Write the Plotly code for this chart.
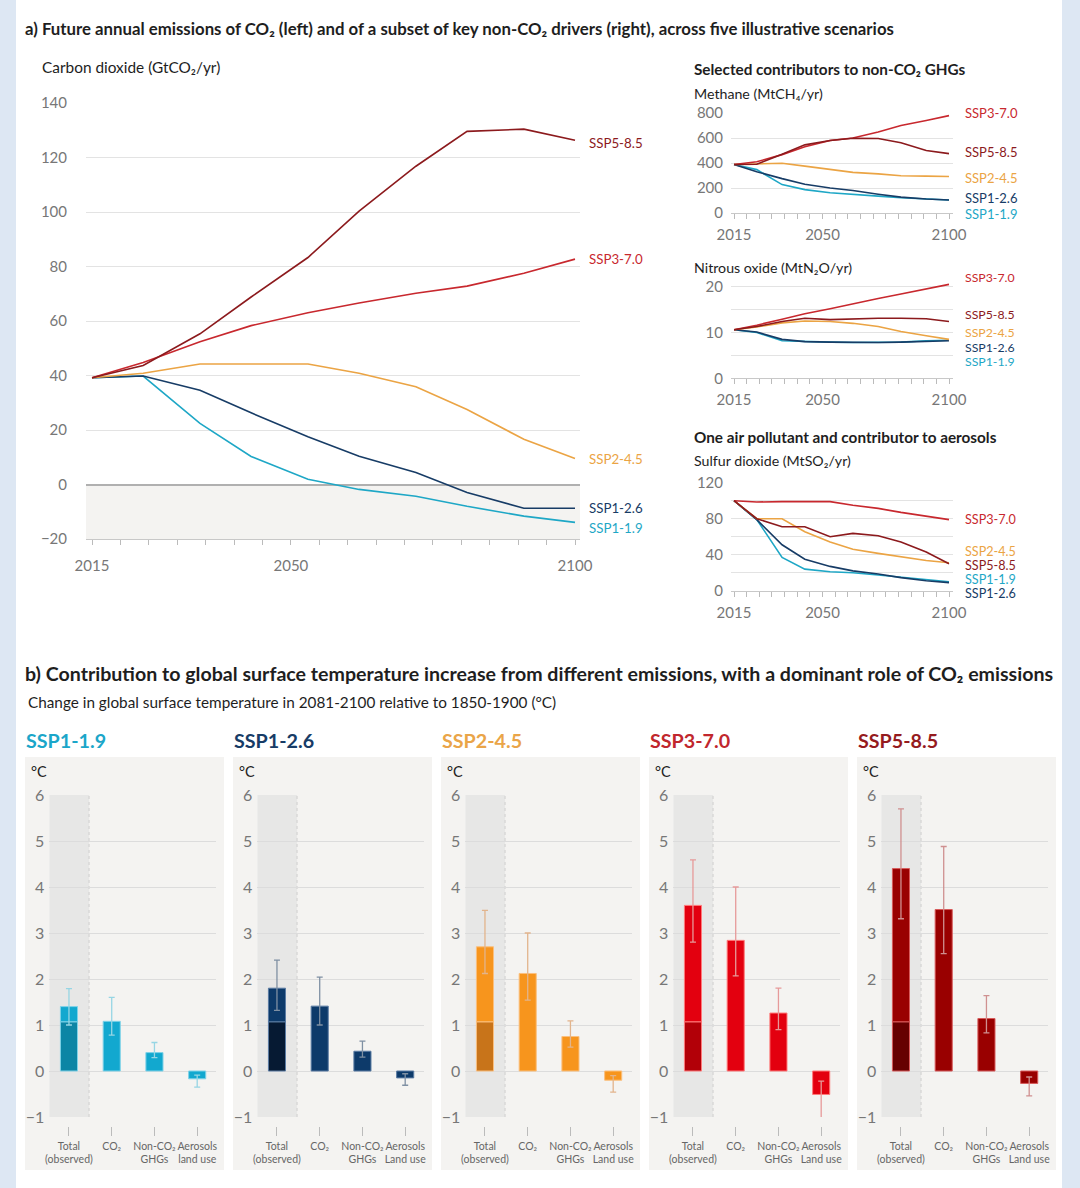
import plotly.graph_objects as go

W, H = 1080, 1188
FONT = "Lato, 'Open Sans', sans-serif"

# ---------------- data: part a ----------------
years = [2015, 2024, 2034, 2043, 2053, 2062, 2072, 2081, 2091, 2100]
year_ticks = [2015, 2050, 2100]
scenarios = ["SSP1-1.9", "SSP1-2.6", "SSP2-4.5", "SSP3-7.0", "SSP5-8.5"]

co2_ssp119 = [39.2, 39.8, 22.4, 10.3, 1.9, -1.8, -4.3, -8.0, -11.6, -13.9]
co2_ssp126 = [39.2, 39.8, 34.6, 26.3, 17.5, 10.4, 4.4, -2.9, -8.7, -8.7]
co2_ssp245 = [39.2, 40.8, 44.2, 44.2, 44.2, 40.8, 35.9, 27.5, 16.6, 9.5]
co2_ssp370 = [39.2, 44.8, 52.4, 58.3, 63.0, 66.6, 70.2, 72.8, 77.5, 82.7]
co2_ssp585 = [39.2, 43.7, 55.3, 68.8, 83.3, 100.3, 116.8, 129.6, 130.4, 126.3]

ch4_ssp119 = [388, 347, 227, 187, 162, 152, 135, 122, 112, 104]
ch4_ssp126 = [388, 330, 275, 230, 200, 180, 150, 127, 112, 104]
ch4_ssp245 = [388, 395, 398, 375, 350, 325, 313, 298, 295, 292]
ch4_ssp370 = [388, 410, 467, 530, 580, 600, 648, 700, 740, 779]
ch4_ssp585 = [388, 390, 470, 545, 580, 598, 596, 562, 500, 475]

n2o_ssp119 = [10.6, 10.0, 8.2, 8.0, 7.9, 7.8, 7.8, 7.9, 8.2, 8.3]
n2o_ssp126 = [10.6, 10.1, 8.5, 8.0, 7.9, 7.8, 7.8, 7.9, 8.1, 8.2]
n2o_ssp245 = [10.6, 11.2, 12.1, 12.5, 12.4, 12.0, 11.3, 10.2, 9.3, 8.5]
n2o_ssp370 = [10.6, 11.6, 12.9, 14.1, 15.2, 16.3, 17.4, 18.4, 19.5, 20.5]
n2o_ssp585 = [10.6, 11.3, 12.4, 13.1, 12.8, 13.0, 13.1, 13.1, 13.0, 12.4]

so2_ssp119 = [100, 79, 37, 24, 21, 20, 17.5, 15, 12, 10]
so2_ssp126 = [100, 79, 51, 35, 27, 22, 18.5, 14.5, 11, 9]
so2_ssp245 = [100, 80, 80, 65.5, 54, 46, 41.5, 38, 33.5, 31]
so2_ssp370 = [100, 98.5, 99, 99, 99, 95, 91.5, 87, 83, 79]
so2_ssp585 = [100, 80, 71, 71, 60, 63.7, 61, 54, 43, 30]

# ---------------- data: part b ----------------
contrib_labels_first = ["Total<br>(observed)", "CO₂", "Non-CO₂<br>GHGs", "Aerosols<br>land use"]
contrib_labels = ["Total<br>(observed)", "CO₂", "Non-CO₂<br>GHGs", "Aerosols<br>Land use"]
observed_warming = 1.07
total_warming = [1.4, 1.8, 2.7, 3.6, 4.4]
total_lo = [1.0, 1.32, 2.12, 2.8, 3.31]
total_hi = [1.79, 2.41, 3.49, 4.59, 5.7]
co2_warming = [1.08, 1.41, 2.12, 2.84, 3.51]
co2_lo = [0.78, 1.0, 1.54, 2.07, 2.55]
co2_hi = [1.6, 2.04, 3.0, 4.0, 4.88]
nonco2_warming = [0.4, 0.43, 0.75, 1.26, 1.14]
nonco2_lo = [0.29, 0.3, 0.52, 0.9, 0.83]
nonco2_hi = [0.62, 0.65, 1.09, 1.8, 1.64]
aerosol_warming = [-0.17, -0.15, -0.2, -0.51, -0.27]
aerosol_lo = [-0.35, -0.31, -0.46, -1.04, -0.54]
aerosol_hi = [-0.09, -0.06, -0.1, -0.22, -0.13]

# ---------------- styles ----------------
line_col = {"SSP1-1.9": "#1ea7c6", "SSP1-2.6": "#173c66", "SSP2-4.5": "#eba444",
            "SSP3-7.0": "#c8282e", "SSP5-8.5": "#8c1a1d"}
title_col = ["#1ba6c9", "#173c66", "#eaa548", "#c1272d", "#951b1e"]
bar_col = ["#12a8cf", "#0d3a6a", "#f7951d", "#e3000f", "#990000"]
obs_col = ["#0c85a5", "#061a33", "#c8741a", "#b20008", "#660000"]
err_col = ["#96d5e4", "#7f90a3", "#e2b48c", "#e69a9a", "#cf9090"]
edge_col = ["#7fd2e8", "#5a7ba3", "#fbbf7d", "#ff7a7a", "#d85a5a"]
TICK_COL = "#777777"
GRID = "#e3e3e3"


def xpx(p):
    return p / W


def ypx(p):
    return 1 - p / H


fig = go.Figure()

# ---------------- part a traces ----------------
co2 = dict(zip(scenarios, [co2_ssp119, co2_ssp126, co2_ssp245, co2_ssp370, co2_ssp585]))
ch4 = dict(zip(scenarios, [ch4_ssp119, ch4_ssp126, ch4_ssp245, ch4_ssp370, ch4_ssp585]))
n2o = dict(zip(scenarios, [n2o_ssp119, n2o_ssp126, n2o_ssp245, n2o_ssp370, n2o_ssp585]))
so2 = dict(zip(scenarios, [so2_ssp119, so2_ssp126, so2_ssp245, so2_ssp370, so2_ssp585]))

panels_a = [("x", "y", co2), ("x2", "y2", ch4), ("x3", "y3", n2o), ("x4", "y4", so2)]
for xa, ya, data in panels_a:
    for s in scenarios:
        fig.add_trace(go.Scatter(x=years, y=data[s], mode="lines", xaxis=xa, yaxis=ya,
                                 line=dict(color=line_col[s], width=1.6),
                                 showlegend=False, hoverinfo="skip"))

annotations = []

# label offsets (pixels) for end-of-line scenario labels
label_shift = {
    "x": {"SSP1-1.9": -6, "SSP1-2.6": 0, "SSP2-4.5": 0, "SSP3-7.0": 0, "SSP5-8.5": -3},
    "x2": {"SSP1-1.9": -14, "SSP1-2.6": 2, "SSP2-4.5": -1, "SSP3-7.0": 3, "SSP5-8.5": 2},
    "x3": {"SSP1-1.9": -21, "SSP1-2.6": -7, "SSP2-4.5": 7, "SSP3-7.0": 7, "SSP5-8.5": 7},
    "x4": {"SSP1-1.9": 2, "SSP1-2.6": -11, "SSP2-4.5": 11, "SSP3-7.0": 0, "SSP5-8.5": -2},
}
label_size = {"x": 13.3, "x2": 13, "x3": 12.3, "x4": 12.6}
for xa, ya, data in panels_a:
    for s in scenarios:
        annotations.append(dict(
            x=years[-1], y=data[s][-1], xref=xa, yref=ya, text=s, showarrow=False,
            xanchor="left", yanchor="middle", xshift=12 if xa == "x" else 14,
            yshift=label_shift[xa][s],
            font=dict(family=FONT, size=label_size[xa], color=line_col[s])))

# ---------------- part b traces ----------------
for i in range(5):
    xa, ya = f"x{5 + i}", f"y{5 + i}"
    fig.add_trace(go.Bar(x=[0], y=[observed_warming], xaxis=xa, yaxis=ya, width=0.4,
                         marker=dict(color=obs_col[i], line=dict(color=edge_col[i], width=1)),
                         showlegend=False, hoverinfo="skip"))
    fig.add_trace(go.Bar(x=[0], y=[total_warming[i] - observed_warming], base=[observed_warming],
                         xaxis=xa, yaxis=ya, width=0.4,
                         marker=dict(color=bar_col[i], line=dict(color=edge_col[i], width=1)),
                         showlegend=False, hoverinfo="skip"))
    vals = [co2_warming[i], nonco2_warming[i], aerosol_warming[i]]
    fig.add_trace(go.Bar(x=[1, 2, 3], y=vals, xaxis=xa, yaxis=ya, width=0.4,
                         marker=dict(color=bar_col[i], line=dict(color=edge_col[i], width=1)),
                         showlegend=False, hoverinfo="skip"))
    centers = [total_warming[i], co2_warming[i], nonco2_warming[i], aerosol_warming[i]]
    los = [total_lo[i], co2_lo[i], nonco2_lo[i], aerosol_lo[i]]
    his = [total_hi[i], co2_hi[i], nonco2_hi[i], aerosol_hi[i]]
    fig.add_trace(go.Scatter(
        x=[0, 1, 2, 3], y=centers, xaxis=xa, yaxis=ya, mode="markers",
        marker=dict(size=1, opacity=0),
        error_y=dict(type="data", symmetric=False,
                     array=[h - c for h, c in zip(his, centers)],
                     arrayminus=[c - l for c, l in zip(centers, los)],
                     color=err_col[i], thickness=1.3, width=3),
        showlegend=False, hoverinfo="skip"))

# ---------------- layout: axes ----------------
layout = {}
small_x_range = [2013.81, 2101.58]


def time_xaxis(domain, rng, anchor):
    return dict(domain=domain, range=rng, anchor=anchor, tickmode="array", tickvals=year_ticks,
                ticks="outside", ticklen=5, tickcolor="#bbbbbb", tickwidth=1,
                minor=dict(tick0=2015, dtick=5, ticks="outside", ticklen=5, tickcolor="#bbbbbb"),
                showline=True, linecolor="#c8c8c8", linewidth=1, showgrid=False, zeroline=False,
                tickfont=dict(family=FONT, size=15, color=TICK_COL), ticklabelstandoff=3,
                tickangle=0, automargin=False, fixedrange=True)


def val_yaxis(domain, rng, anchor, tickvals, standoff, size=15, minor_dtick=None):
    d = dict(domain=domain, range=rng, anchor=anchor, tickmode="array", tickvals=tickvals,
             showgrid=True, gridcolor=GRID, zeroline=False, showline=False, ticks="",
             tickfont=dict(family=FONT, size=size, color=TICK_COL), ticklabelstandoff=standoff,
             automargin=False, fixedrange=True)
    if minor_dtick:
        d["minor"] = dict(tick0=0, dtick=minor_dtick, showgrid=True, gridcolor=GRID)
    return d


layout["xaxis"] = time_xaxis([xpx(86), xpx(580)], [2013.94, 2100.88], "y")
layout["xaxis"]["ticklabelstandoff"] = 8
layout["yaxis"] = val_yaxis([ypx(539), ypx(103)], [-20, 140], "x", list(range(-20, 141, 20)), 18)
layout["yaxis"].update(zeroline=True, zerolinecolor="#b0b0b0", zerolinewidth=1.5)

layout["xaxis2"] = time_xaxis([xpx(731), xpx(953)], small_x_range, "y2")
layout["yaxis2"] = val_yaxis([ypx(213), ypx(113)], [0, 800], "x2", [0, 200, 400, 600, 800], 7)

layout["xaxis3"] = time_xaxis([xpx(731), xpx(953)], small_x_range, "y3")
layout["yaxis3"] = val_yaxis([ypx(378.3), ypx(282.1)], [0, 21], "x3", [0, 10, 20], 7,
                             minor_dtick=5)

layout["xaxis4"] = time_xaxis([xpx(731), xpx(953)], small_x_range, "y4")
layout["yaxis4"] = val_yaxis([ypx(590.7), ypx(482.7)], [0, 120], "x4", [0, 40, 80, 120], 7,
                             minor_dtick=20)

shapes = [
    dict(type="rect", xref="paper", yref="paper", x0=0, x1=xpx(16), y0=0, y1=1,
         fillcolor="#dde7f3", line=dict(width=0), layer="below"),
    dict(type="rect", xref="paper", yref="paper", x0=xpx(1062), x1=1, y0=0, y1=1,
         fillcolor="#dde7f3", line=dict(width=0), layer="below"),
    dict(type="rect", xref="x", yref="y", x0=2013.94, x1=2100.88, y0=-20, y1=0,
         fillcolor="#f4f3f1", line=dict(width=0), layer="below"),
]

PANEL_STEP = 208
for i in range(5):
    off = PANEL_STEP * i
    n = 5 + i
    labels = contrib_labels_first if i == 0 else contrib_labels
    layout[f"xaxis{n}"] = dict(domain=[xpx(49.3 + off), xpx(216 + off)], range=[-0.46, 3.44],
                               anchor="free", position=ypx(1126), tickmode="array",
                               tickvals=[0, 1, 2, 3], ticktext=labels, ticks="outside", ticklen=9,
                               tickcolor="#bbbbbb", showgrid=False, zeroline=False, showline=False,
                               tickangle=0, ticklabelstandoff=1,
                               tickfont=dict(family=FONT, size=10.5, color="#666666"),
                               automargin=False, fixedrange=True)
    layout[f"yaxis{n}"] = val_yaxis([ypx(1117), ypx(795)], [-1, 6], f"x{n}", list(range(-1, 7)),
                                    4, size=16)
    layout[f"yaxis{n}"]["gridcolor"] = "#dcdcdc"
    shapes.append(dict(type="rect", xref="paper", yref="paper", x0=xpx(25 + off), x1=xpx(224 + off),
                       y0=ypx(1170), y1=ypx(757), fillcolor="#f4f3f1", line=dict(width=0),
                       layer="below"))
    shapes.append(dict(type="rect", xref=f"x{n}", yref=f"y{n}", x0=-0.46, x1=0.47, y0=-1, y1=6,
                       fillcolor="#e7e7e6", line=dict(width=0), layer="below"))
    shapes.append(dict(type="line", xref=f"x{n}", yref=f"y{n}", x0=0.47, x1=0.47, y0=-1, y1=6,
                       line=dict(color="#cfcfcf", width=1, dash="dot"), layer="below"))
    annotations.append(dict(text=f"<b>{scenarios[i]}</b>", x=xpx(24 + off), y=ypx(740),
                            xref="paper", yref="paper", xanchor="left", yanchor="middle",
                            showarrow=False, font=dict(family=FONT, size=19.7, color=title_col[i])))
    annotations.append(dict(text="°C", x=xpx(29 + off), y=ypx(771), xref="paper", yref="paper",
                            xanchor="left", yanchor="middle", showarrow=False,
                            font=dict(family=FONT, size=14.5, color="#222222")))


def text_ann(text, xp, yp, size, bold=False, color="#1e1e1e"):
    return dict(text=f"<b>{text}</b>" if bold else text, x=xpx(xp), y=ypx(yp), xref="paper",
                yref="paper", xanchor="left", yanchor="middle", showarrow=False,
                font=dict(family=FONT, size=size, color=color))


annotations += [
    text_ann("a) Future annual emissions of CO₂ (left) and of a subset of key non-CO₂ drivers "
             "(right), across five illustrative scenarios", 23, 28, 16.8, bold=True),
    text_ann("Carbon dioxide (GtCO₂/yr)", 40, 67, 15.4),
    text_ann("Selected contributors to non-CO₂ GHGs", 692, 69, 15.3, bold=True),
    text_ann("Methane (MtCH₄/yr)", 692, 93, 14.2),
    text_ann("Nitrous oxide (MtN₂O/yr)", 692, 268, 14.2),
    text_ann("One air pollutant and contributor to aerosols", 692, 437, 15.3, bold=True),
    text_ann("Sulfur dioxide (MtSO₂/yr)", 692, 461, 14.2),
    text_ann("b) Contribution to global surface temperature increase from different emissions, "
             "with a dominant role of CO₂ emissions", 23, 673, 19.6, bold=True),
    text_ann("Change in global surface temperature in 2081-2100 relative to 1850-1900 (°C)",
             26, 702, 15.3),
]

fig.update_layout(
    template="none",
    width=W, height=H, margin=dict(l=0, r=0, t=0, b=0, pad=0, autoexpand=False),
    paper_bgcolor="white", plot_bgcolor="rgba(0,0,0,0)",
    barmode="overlay", showlegend=False,
    font=dict(family=FONT, color="#222222"),
    shapes=shapes, annotations=annotations,
    **layout,
)

fig.write_html("out.html", config={"displayModeBar": False},
               post_script="document.body.style.margin='0px';")
